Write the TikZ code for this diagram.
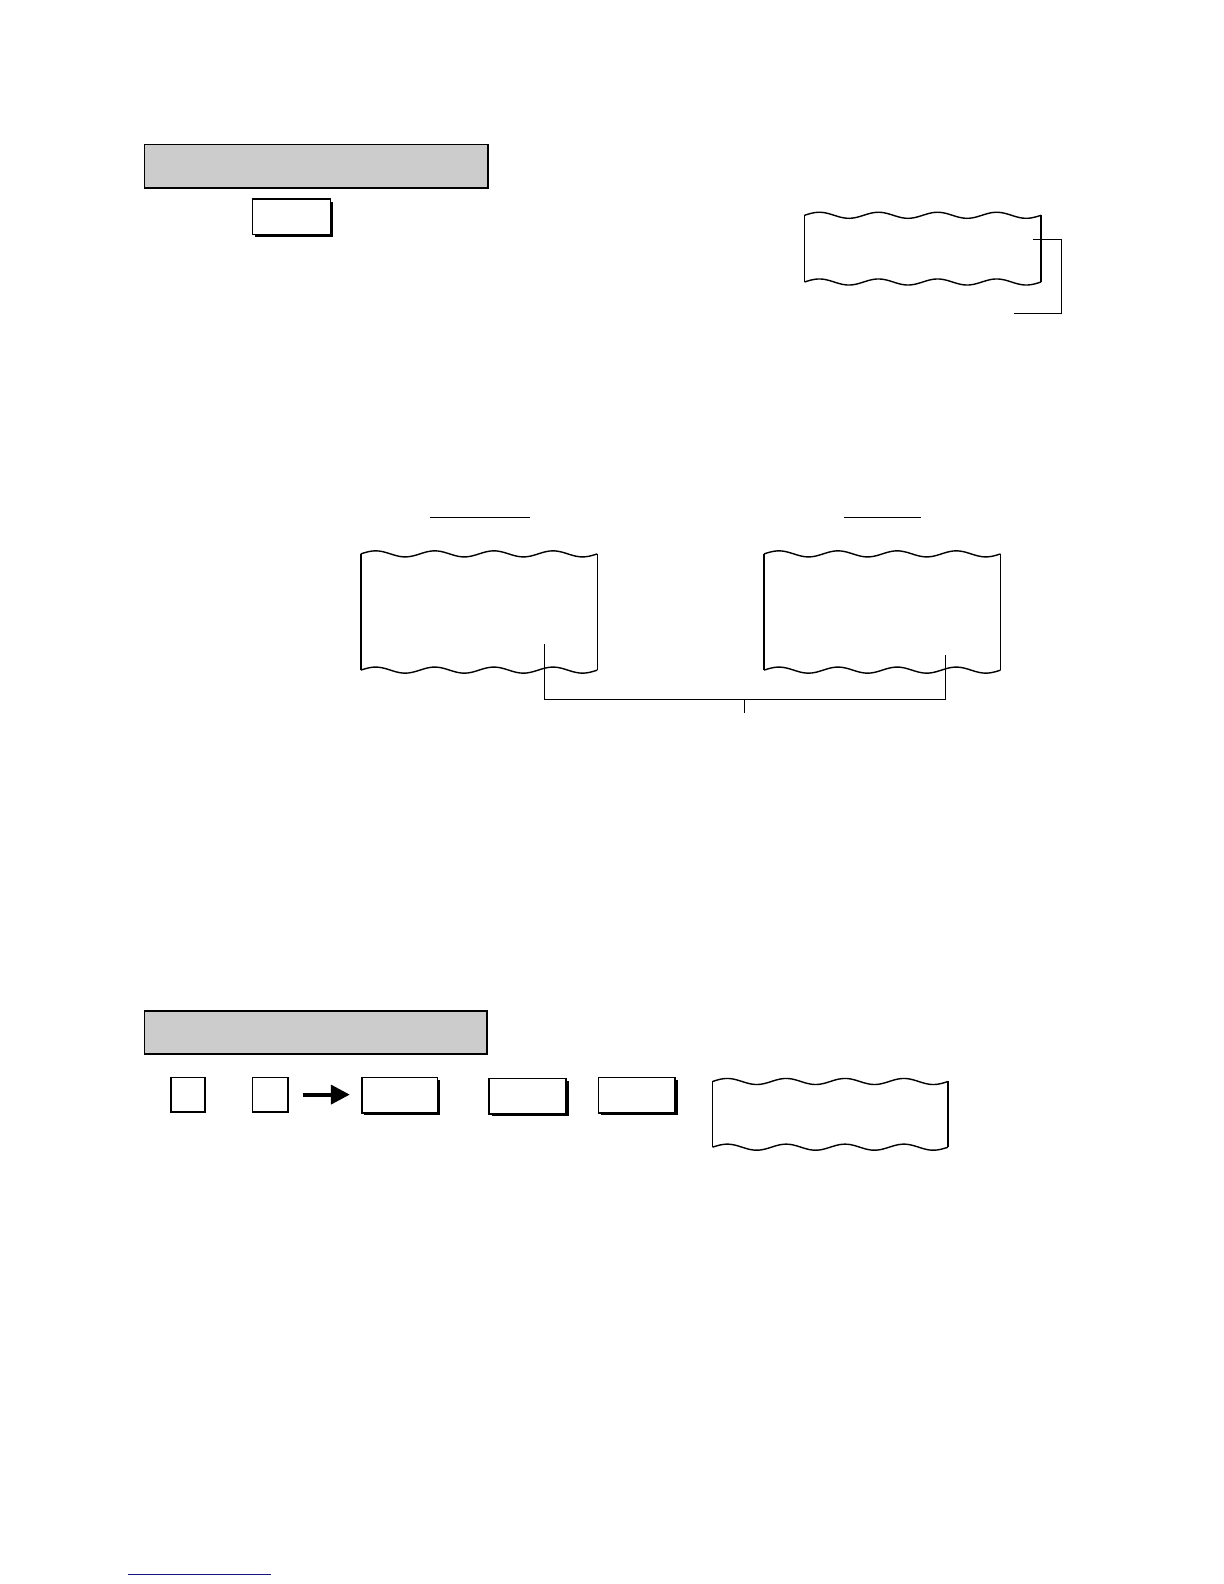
\documentclass[tikz,border=0pt]{standalone}
\usetikzlibrary{shadows,arrows.meta}
\definecolor{hdrgray}{RGB}{204,204,204}
\definecolor{footblue}{RGB}{20,20,130}
\tikzset{
  sz/.style 2 args={minimum width=#1*0.05054cm, minimum height=#2*0.05054cm,
    inner sep=0pt, outer sep=0pt, anchor=north west},
  header/.style={draw, fill=hdrgray, line width=2.6pt},
  keybox/.style={draw, fill=white, line width=2.2pt,
    drop shadow={shadow xshift=0.13cm, shadow yshift=-0.13cm, fill=black, opacity=1}},
  numbox/.style={draw, fill=white, line width=2.2pt},
  paperline/.style={line width=2pt, line join=round},
  thinline/.style={line width=1.2pt},
  bigarrow/.style={line width=5.5pt, -{Triangle[length=0.95cm, width=0.95cm]}},
}
% wavy receipt: name, x, y, width, height (pixels)
\newcommand\paper[5]{%
  \node[sz={#4}{#5}] (#1) at (#2,#3) {};
  \draw[paperline] plot[domain=0:1, samples=90, smooth]
    ({#2+#4*\x}, {#3+3-3*sin(1440*\x)});
  \draw[paperline] plot[domain=0:1, samples=90, smooth]
    ({#2+#4*\x}, {#3+#5-3-3*sin(1440*\x)});
  \draw[paperline] (#2,#3+3) -- (#2,#3+#5-3);
  \draw[paperline] (#2+#4,#3+3) -- (#2+#4,#3+#5-3);
}
\begin{document}
\begin{tikzpicture}[x=0.05054cm, y=-0.05054cm]
\useasboundingbox (0,0) rectangle (1211,1567.2);

% first section
\node[header, sz={340}{43}] (head1) at (143,143) {};
\node[keybox, sz={77}{35}] (key1) at (250,197) {};
\paper{rcpt1}{796}{210}{234}{72}
\coordinate (b1s) at (1022,237);
\coordinate (b1e) at (1003,310);
\draw[thinline] (b1s) -- ++(28,0) |- (b1e);

% two receipts
\draw[thinline] (425,512) -- (524,512);
\draw[thinline] (835,512) -- (911,512);
\paper{rcpt2}{357}{545}{234}{121}
\paper{rcpt3}{756}{545}{234}{121}
\coordinate (b2l) at (539,637);
\coordinate (b2r) at (935,648);
\coordinate (b2m) at (737,705);
\draw[thinline] (b2l) -- ++(0,55) -| (b2r);
\draw[thinline] (b2m) -- ++(0,-13);

% second section
\node[header, sz={339}{43}] (head2) at (143,1000) {};
\node[numbox, sz={34}{34}] (n1) at (169,1066) {};
\node[numbox, sz={35}{34}] (n2) at (250,1066) {};
\node[keybox, sz={75}{35}] (keyA) at (358,1066) {};
\node[keybox, sz={76}{35}] (keyB) at (484,1067) {};
\node[keybox, sz={76}{35}] (keyC) at (592,1066) {};
\draw[bigarrow, shorten <=0.75cm, shorten >=0.6cm] (n2.east) -- (keyA.west |- n2.east);
\paper{rcpt4}{705}{1067}{233}{71}

% footer rule
\draw[footblue, line width=1.8pt] (127,1558) -- (268,1558);
\end{tikzpicture}
\end{document}
